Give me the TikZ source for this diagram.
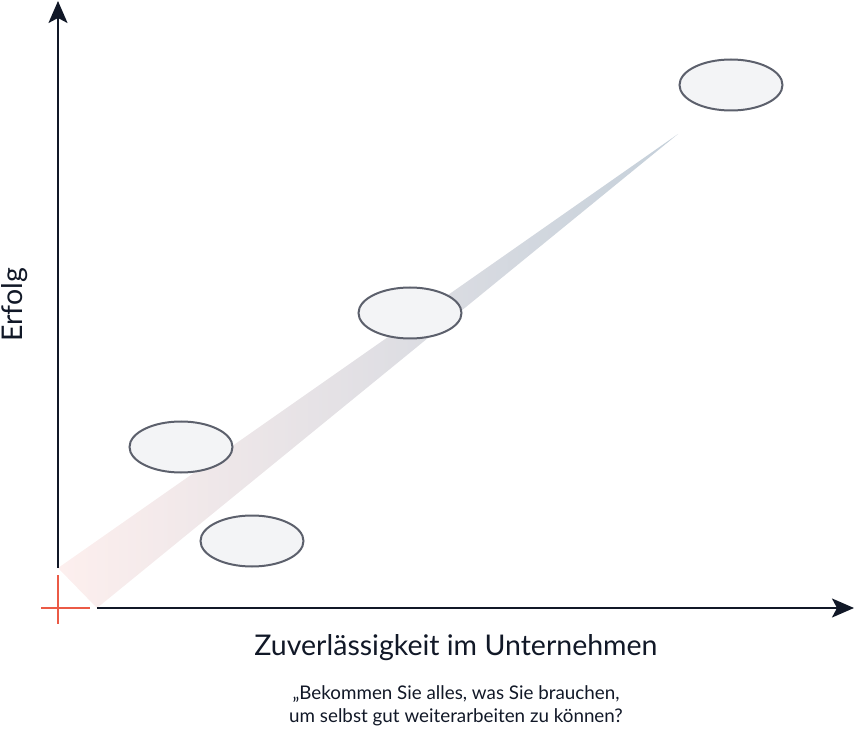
\documentclass[tikz,border=0pt]{standalone}
\usepackage{fontspec}
\setmainfont{Lato}
\usetikzlibrary{shapes.geometric, arrows.meta, positioning, calc}
\definecolor{achse}{HTML}{111827}
\definecolor{rot}{HTML}{EB5A46}
\definecolor{rand}{HTML}{5C606C}
\definecolor{fuell}{HTML}{F3F4F6}
\definecolor{bandA}{HTML}{FDEFEE}
\definecolor{bandB}{HTML}{DCDBDF}
\definecolor{bandC}{HTML}{C5D0DA}

\begin{document}
\begin{tikzpicture}[x=1pt,y=-1pt,
  punkt/.style={ellipse,draw=rand,fill=fuell,line width=2pt,
    minimum width=103pt,minimum height=51pt,inner sep=0pt},
  achsenpfeil/.style={draw=achse,line width=2pt,
    -{Stealth[length=22pt,width=19pt,inset=5pt]}}]
  \useasboundingbox (0,0) rectangle (855,730);

  % ---------- Trendband ----------
  \shade[left color=bandA, middle color=bandB, right color=bandC]
    (58,568) -- (97,608) -- (678,134) -- cycle;

  % ---------- Achsen ----------
  \coordinate (ursprungY) at (58,568);
  \coordinate (spitzeY) at (58,1);
  \coordinate (ursprungX) at (97,608);
  \coordinate (spitzeX) at (854,608);
  \draw[achsenpfeil] (ursprungY) -- (spitzeY);
  \draw[achsenpfeil] (ursprungX) -- (spitzeX);

  % Nullpunkt-Kreuz
  \draw[rot,line width=2pt] (58,575) -- (58,624);
  \draw[rot,line width=2pt] (41,608) -- (90,608);

  % ---------- Punkte ----------
  \foreach \n/\x/\y in {p1/181/447, p2/252/541, p3/410/313, p4/731/85}{
    \node[punkt] (\n) at (\x,\y) {};
  }

  % ---------- Beschriftung ----------
  \node[font=\fontsize{28.5}{34}\selectfont,text=achse] (xlabel) at (456,648)
    {Zuverlässigkeit im Unternehmen};
  \node[font=\fontsize{28.5}{34}\selectfont,text=achse,rotate=90] (ylabel) at (15,305)
    {Erfolg};
  \node[font=\fontsize{18.8}{23}\selectfont,text=achse,align=center] (frage) at (456,706)
    {„Bekommen Sie alles, was Sie brauchen,\\um selbst gut weiterarbeiten zu können?};
\end{tikzpicture}
\end{document}
